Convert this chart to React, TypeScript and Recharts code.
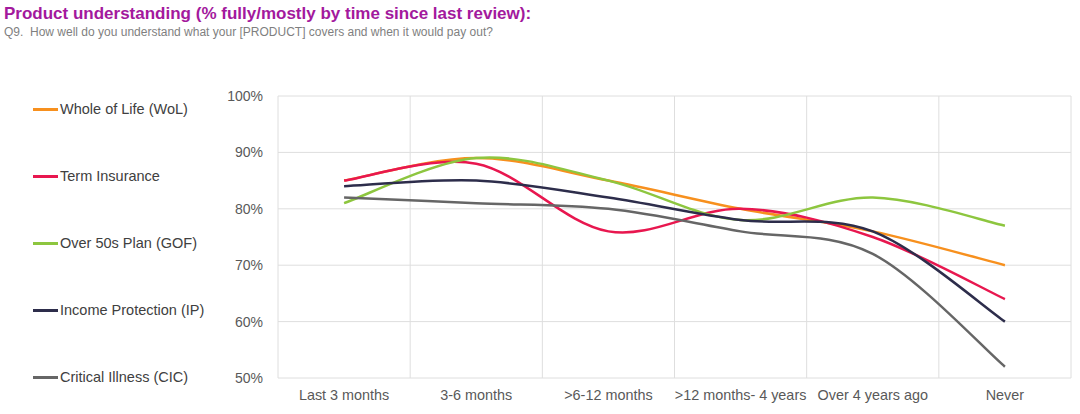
import React from "react";
import { LineChart, Line, XAxis, YAxis, CartesianGrid } from "recharts";

const categories = [
  "Last 3 months",
  "3-6 months",
  ">6-12 months",
  ">12 months- 4 years",
  "Over 4 years ago",
  "Never",
];
const wholeOfLife = [85, 89, 85, 80, 76, 70];
const termInsurance = [85, 88, 76, 80, 75, 64];
const over50sPlan = [81, 89, 85, 78, 82, 77];
const incomeProtection = [84, 85, 82, 78, 76, 60];
const criticalIllness = [82, 81, 80, 76, 72, 52];
const yTicks = [50, 60, 70, 80, 90, 100];

const seriesDefs = [
  { key: "wol", name: "Whole of Life (WoL)", values: wholeOfLife, color: "#f7901e" },
  { key: "term", name: "Term Insurance", values: termInsurance, color: "#e8174f" },
  { key: "gof", name: "Over 50s Plan (GOF)", values: over50sPlan, color: "#8dc63f" },
  { key: "ip", name: "Income Protection (IP)", values: incomeProtection, color: "#2d2d4b" },
  { key: "cic", name: "Critical Illness (CIC)", values: criticalIllness, color: "#666666" },
];

const data = categories.map((c, i) => {
  const row: Record<string, any> = { category: c };
  seriesDefs.forEach((s) => (row[s.key] = s.values[i]));
  return row;
});

// Excel-like smoothing (Catmull-Rom as cubic Bezier)
function excelSmooth(context: any) {
  let pts: number[][] = [];
  return {
    areaStart() {},
    areaEnd() {},
    lineStart() {
      pts = [];
    },
    point(x: number, y: number) {
      pts.push([+x, +y]);
    },
    lineEnd() {
      const n = pts.length;
      if (n === 0) return;
      context.moveTo(pts[0][0], pts[0][1]);
      for (let i = 0; i < n - 1; i++) {
        const p0 = pts[Math.max(i - 1, 0)];
        const p1 = pts[i];
        const p2 = pts[i + 1];
        const p3 = pts[Math.min(i + 2, n - 1)];
        context.bezierCurveTo(
          p1[0] + (p2[0] - p0[0]) / 6,
          p1[1] + (p2[1] - p0[1]) / 6,
          p2[0] - (p3[0] - p1[0]) / 6,
          p2[1] - (p3[1] - p1[1]) / 6,
          p2[0],
          p2[1]
        );
      }
    },
  };
}

const FONT = '"Liberation Sans", Arial, Helvetica, sans-serif';

export default function App() {
  return (
    <div
      style={{
        position: "absolute",
        left: 0,
        top: 0,
        width: 1080,
        height: 414,
        background: "#ffffff",
        fontFamily: FONT,
        overflow: "hidden",
      }}
    >
      <div
        style={{
          position: "absolute",
          left: 4,
          top: 4,
          fontSize: 17,
          fontWeight: "bold",
          color: "#a3199d",
          whiteSpace: "nowrap",
        }}
      >
        Product understanding (% fully/mostly by time since last review):
      </div>
      <div
        style={{
          position: "absolute",
          left: 4,
          top: 25,
          fontSize: 12,
          color: "#7f7f7f",
          whiteSpace: "pre",
        }}
      >
        {"Q9.  How well do you understand what your [PRODUCT] covers and when it would pay out?"}
      </div>
      <div style={{ position: "absolute", left: 0, top: 0 }}>
        <LineChart
          width={1080}
          height={414}
          data={data}
          margin={{ top: 96, right: 9, bottom: 0, left: 0 }}
        >
          <CartesianGrid
            stroke="#dedede"
            strokeWidth={1}
            verticalCoordinatesGenerator={({ offset }: any) =>
              categories
                .map((_, i) => offset.left + (i * offset.width) / categories.length)
                .concat([offset.left + offset.width])
            }
          />
          <XAxis
            dataKey="category"
            scale="band"
            axisLine={false}
            tickLine={false}
            tickSize={0}
            tickMargin={12}
            height={36}
            interval={0}
            tick={{ fill: "#595959", fontSize: 14.4, fontFamily: FONT }}
          />
          <YAxis
            domain={[50, 100]}
            ticks={yTicks}
            width={278}
            axisLine={false}
            tickLine={false}
            tickSize={0}
            tickMargin={15}
            tickFormatter={(v: number) => `${v}%`}
            tick={{ fill: "#595959", fontSize: 14, fontFamily: FONT }}
          />
          {seriesDefs.map((s) => (
            <Line
              key={s.key}
              dataKey={s.key}
              name={s.name}
              stroke={s.color}
              strokeWidth={2.5}
              dot={false}
              activeDot={false}
              type={excelSmooth as any}
              isAnimationActive={false}
            />
          ))}
        </LineChart>
      </div>
      {seriesDefs.map((s, i) => (
        <div
          key={s.key}
          style={{
            position: "absolute",
            left: 33,
            top: 100 + i * 67,
            height: 18,
            display: "flex",
            alignItems: "center",
            whiteSpace: "nowrap",
          }}
        >
          <span
            style={{
              display: "inline-block",
              width: 25,
              height: 3,
              background: s.color,
              marginRight: 2,
            }}
          />
          <span style={{ fontSize: 14.5, color: "#404040" }}>{s.name}</span>
        </div>
      ))}
    </div>
  );
}
